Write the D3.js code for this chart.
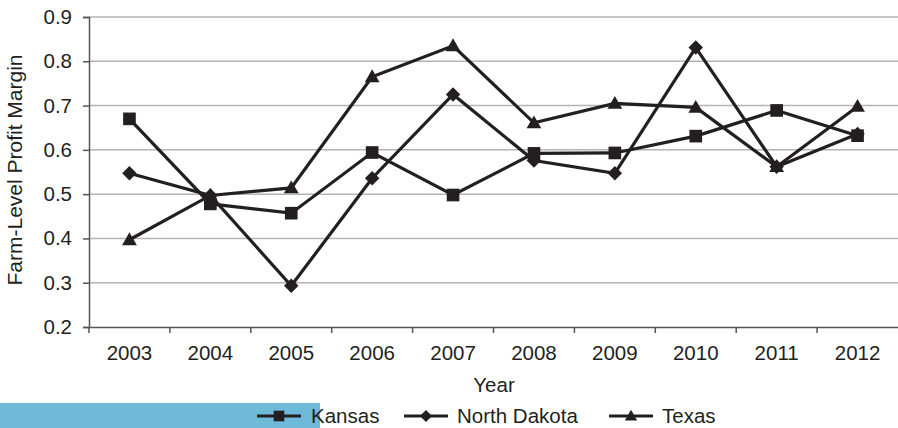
<!DOCTYPE html>
<html><head><meta charset="utf-8">
<script src="https://cdn.jsdelivr.net/npm/d3@7"></script>
<style>body{margin:0;background:#fff}svg{display:block}</style>
</head><body>
<script>
const years = ["2003","2004","2005","2006","2007","2008","2009","2010","2011","2012"];
const kansas = [0.670,0.478,0.457,0.594,0.498,0.592,0.593,0.631,0.689,0.632];
const northDakota = [0.547,0.497,0.293,0.536,0.725,0.576,0.547,0.831,0.562,0.636];
const texas = [0.397,0.497,0.514,0.765,0.835,0.661,0.705,0.696,0.562,0.698];
const yTicks = [0.2,0.3,0.4,0.5,0.6,0.7,0.8,0.9];
const seriesNames = ["Kansas","North Dakota","Texas"];

const W=898,H=428;
const svg=d3.select("body").append("svg").attr("width",W).attr("height",H);
const x=d3.scaleBand().domain(years).range([89,898]);
const y=d3.scaleLinear().domain([0.2,0.9]).range([327,17]);
const font="Liberation Sans, Arial, sans-serif";
const ink="#231f20";
const FS=20.5;

const square={draw(c,s){const r=Math.sqrt(s)/2;c.rect(-r,-r,2*r,2*r);}};
const diamond={draw(c,s){const r=Math.sqrt(s)/2*1.35;c.moveTo(0,-r);c.lineTo(r,0);c.lineTo(0,r);c.lineTo(-r,0);c.closePath();}};
const triangle={draw(c,s){const a=Math.sqrt(s)*1.15;const h=a*0.866;c.moveTo(0,-h*0.58);c.lineTo(a/2,h*0.42);c.lineTo(-a/2,h*0.42);c.closePath();}};

svg.append("rect").attr("x",0).attr("y",403).attr("width",320).attr("height",25).attr("fill","#6fb9d9");

svg.append("g").selectAll("line").data(yTicks.slice(1)).join("line")
 .attr("x1",89).attr("x2",898).attr("y1",d=>y(d)).attr("y2",d=>y(d))
 .attr("stroke","#b4b4b4").attr("stroke-width",1.5);

const ya=svg.append("g").attr("transform","translate(89,0)").call(d3.axisLeft(y).tickValues(yTicks).tickFormat(d3.format(".1f")).tickSize(6).tickPadding(11));
ya.select(".domain").attr("stroke","#555").attr("stroke-width",1.5);
ya.selectAll(".tick line").attr("stroke","#555").attr("stroke-width",1.5);
ya.selectAll("text").attr("font-family",font).attr("font-size",FS).attr("fill",ink);

const xa=svg.append("g").attr("transform","translate(0,327)").call(d3.axisBottom(x).tickSize(0).tickPadding(18));
xa.select(".domain").attr("stroke","#555").attr("stroke-width",1.5);
xa.selectAll("text").attr("font-family",font).attr("font-size",FS).attr("fill",ink);
svg.append("g").selectAll("line").data(years).join("line")
 .attr("x1",d=>x(d)).attr("x2",d=>x(d)).attr("y1",327).attr("y2",333)
 .attr("stroke","#555").attr("stroke-width",1.5);

svg.append("text").attr("x",494).attr("y",392).attr("text-anchor","middle")
 .attr("font-family",font).attr("font-size",FS).attr("fill",ink).text("Year");
svg.append("text").attr("transform","translate(22,170) rotate(-90)").attr("text-anchor","middle")
 .attr("font-family",font).attr("font-size",21).attr("fill",ink).text("Farm-Level Profit Margin");

const cx=d=>x(d)+x.bandwidth()/2;
const sym=[square,diamond,triangle];
const sizes=[160,115,165];
const data=[kansas,northDakota,texas];
const line=d3.line().x((d,i)=>cx(years[i])).y(d=>y(d));
data.forEach((s,k)=>{
  svg.append("path").attr("d",line(s)).attr("fill","none").attr("stroke",ink).attr("stroke-width",3.2);
});
data.forEach((s,k)=>{
  svg.append("g").selectAll("path").data(s).join("path")
   .attr("transform",(d,i)=>`translate(${cx(years[i])},${y(d)})`)
   .attr("d",d3.symbol(sym[k],sizes[k])).attr("fill",ink);
});

const lg=[{x:257,t:311},{x:404,t:457},{x:609,t:662}];
lg.forEach((p,k)=>{
  const g=svg.append("g");
  g.append("line").attr("x1",p.x).attr("x2",p.x+44).attr("y1",416).attr("y2",416).attr("stroke",ink).attr("stroke-width",3);
  g.append("path").attr("transform",`translate(${p.x+22},416)`).attr("d",d3.symbol(sym[k],sizes[k]*0.7)).attr("fill",ink);
  g.append("text").attr("x",p.t).attr("y",423).attr("font-family",font).attr("font-size",FS).attr("fill",ink).text(seriesNames[k]);
});
</script>
</body></html>
